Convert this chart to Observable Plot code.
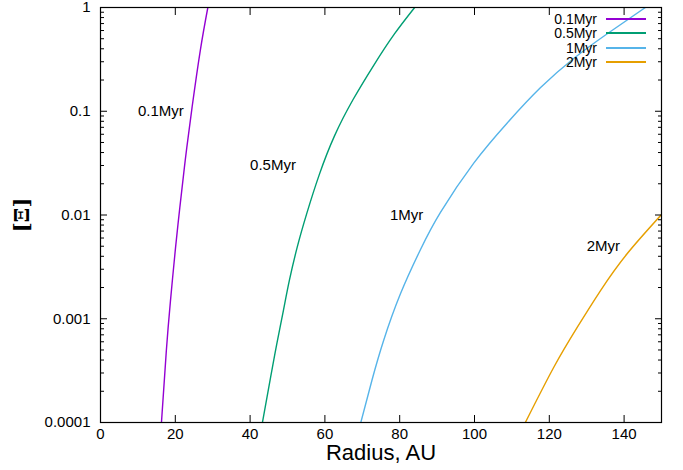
<!DOCTYPE html>
<html><head><meta charset="utf-8">
<script src="https://cdn.jsdelivr.net/npm/d3@7"></script>
<script src="https://cdn.jsdelivr.net/npm/@observablehq/plot@0.6"></script>
<style>
body{margin:0;background:#fff;font-family:"Liberation Sans",Arial,sans-serif}
#wrap{position:relative;width:683px;height:470px}
#legend{position:absolute;top:12px;right:37px;font-size:14px;line-height:14.3px;color:#000}
.row{display:flex;align-items:center;justify-content:flex-end;height:14.3px}
.sw{width:40px;height:0;border-top:2px solid;margin-left:9px}
</style></head><body><div id="wrap"><div id="legend"></div></div>
<script>
// ---- data ----
const seriesNames = ["0.1Myr", "0.5Myr", "1Myr", "2Myr"];
const seriesColors = ["#9400d3", "#009e73", "#56b4e9", "#e69f00"];

const radius01 = [16.3, 17.6, 18.7, 20.05, 21.2, 22.7, 24.5, 26.7, 28.7];
const xi01     = [0.0001, 0.00049, 0.00148, 0.00479, 0.0117, 0.0347, 0.11, 0.389, 1];

const radius05 = [43.3, 45.5, 47.1, 48.9, 50.5, 52.6, 55.1, 58.5, 62.6, 67.5, 73.1, 78.6, 84.0];
const xi05     = [0.0001, 0.000275, 0.000562, 0.0012, 0.00234, 0.0049, 0.0102, 0.0245, 0.0582, 0.129, 0.279, 0.556, 1];

const radius1 = [69.6, 72.6, 75.7, 80.2, 85.6, 90.9, 99.8, 108.7, 117.6, 126.6, 135.5, 145.7];
const xi1     = [0.0001, 0.000257, 0.000617, 0.00174, 0.00468, 0.0106, 0.0316, 0.0767, 0.168, 0.324, 0.558, 1];

const radius2 = [113.6, 121.2, 127.5, 133.7, 140.8, 150];
const xi2     = [0.0001, 0.000341, 0.00083, 0.00187, 0.00423, 0.0101];

const labelX = [10, 40, 77.4, 130];
const labelY = [0.1, 0.03, 0.01, 0.005];

const xTicks = [0, 20, 40, 60, 80, 100, 120, 140];
const yTicks = [0.0001, 0.001, 0.01, 0.1, 1];
const yTickLabels = ["0.0001", "0.001", "0.01", "0.1", "1"];
const yMinorTicks = [0.0001, 0.001, 0.01, 0.1].flatMap(d => [2,3,4,5,6,7,8,9].map(k => k * d));

const xTitle = "Radius, AU";
const yTitle = "[Ξ]";

// ---- build table ----
const radii = [radius01, radius05, radius1, radius2];
const xis = [xi01, xi05, xi1, xi2];
const rows = [];
seriesNames.forEach((s, i) => radii[i].forEach((r, j) => rows.push({series: s, r, xi: xis[i][j]})));
const labels = seriesNames.map((s, i) => ({text: s, x: labelX[i], y: labelY[i]}));

const font = "Liberation Sans, Arial, sans-serif";
const chart = Plot.plot({
  width: 683, height: 470,
  marginLeft: 100, marginRight: 22, marginTop: 7, marginBottom: 48,
  style: {fontFamily: font, fontSize: "15px", color: "black", background: "white"},
  x: {domain: [0, 150]},
  y: {type: "log", domain: [0.0001, 1]},
  color: {domain: seriesNames, range: seriesColors},
  marks: [
    Plot.line(rows, {x: "r", y: "xi", z: "series", stroke: "series", strokeWidth: 1.4, curve: "natural", clip: true}),
    Plot.text(labels, {x: "x", y: "y", text: "text", textAnchor: "start", fontSize: 15, fill: "black"}),
    Plot.axisX(xTicks, {anchor: "bottom", tickSize: 0, tickPadding: 6, tickFormat: d => String(d), label: null, fontSize: 15}),
    Plot.axisX(xTicks, {anchor: "bottom", tickSize: -7, tickFormat: () => "", label: null}),
    Plot.axisX(xTicks, {anchor: "top", tickSize: -7, tickFormat: () => "", label: null}),
    Plot.axisY(yTicks, {anchor: "left", tickSize: 0, tickPadding: 10, tickFormat: d => yTickLabels[yTicks.indexOf(d)], label: null, fontSize: 15}),
    Plot.axisY(yTicks, {anchor: "left", tickSize: -7, tickFormat: () => "", label: null}),
    Plot.axisY(yTicks, {anchor: "right", tickSize: -7, tickFormat: () => "", label: null}),
    Plot.axisY(yMinorTicks, {anchor: "left", tickSize: -4, tickFormat: () => "", label: null}),
    Plot.axisY(yMinorTicks, {anchor: "right", tickSize: -4, tickFormat: () => "", label: null}),
    Plot.frame({stroke: "black", strokeWidth: 1.2}),
    Plot.text([xTitle], {frameAnchor: "bottom", lineAnchor: "middle", textAnchor: "middle", dy: 30, text: d => d, fontSize: 22, fill: "black"}),
    Plot.text([yTitle], {frameAnchor: "left", lineAnchor: "middle", textAnchor: "middle", dx: -78, rotate: -90, text: d => d, fontSize: 21, fontWeight: "bold", fontFamily: "DejaVu Serif", fill: "black"})
  ]
});
const wrap = document.getElementById("wrap");
wrap.insertBefore(chart, wrap.firstChild);

const legend = document.getElementById("legend");
seriesNames.forEach((s, i) => {
  const row = document.createElement("div");
  row.className = "row";
  const t = document.createElement("span");
  t.textContent = s;
  const sw = document.createElement("span");
  sw.className = "sw";
  sw.style.borderTopColor = seriesColors[i];
  row.appendChild(t); row.appendChild(sw);
  legend.appendChild(row);
});
</script></body></html>
